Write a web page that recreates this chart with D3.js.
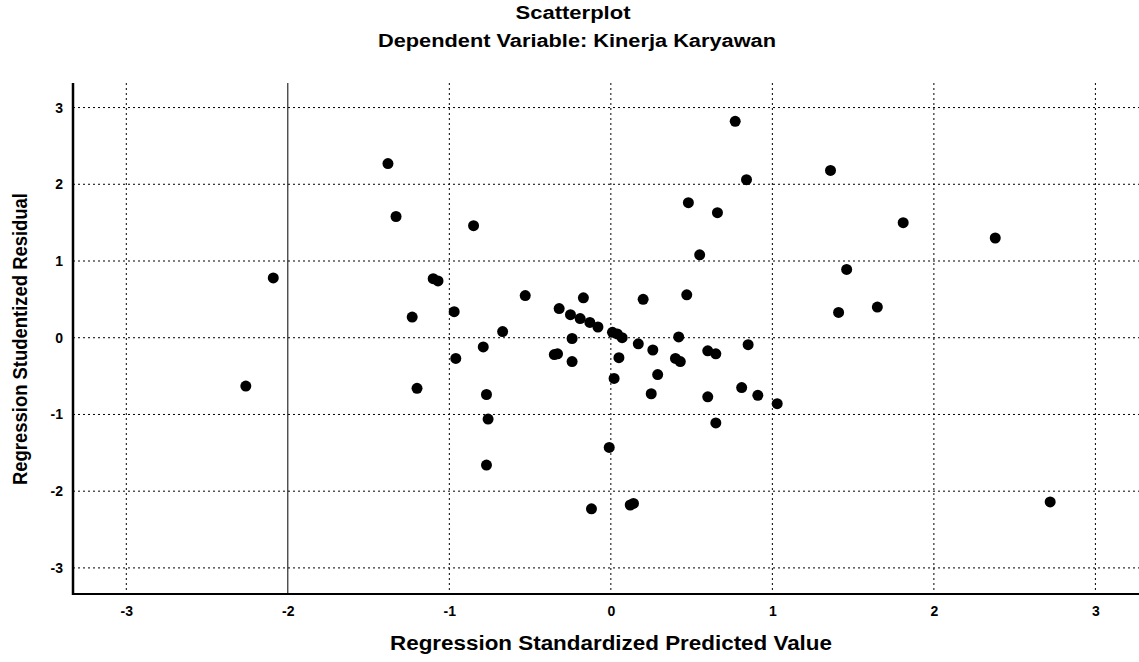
<!DOCTYPE html>
<html lang="en">
  <head>
    <meta charset="UTF-8" />
    <title>Scatterplot - Kinerja Karyawan</title>
    <script src="https://d3js.org/d3.v7.min.js"></script>
    <style>
      body {
        margin: 0;
        background: #fff;
        font-family: "Liberation Sans", Arial, sans-serif;
      }
      .title {
        font-weight: bold;
        font-size: 18px;
      }
      .axis_label {
        font-weight: bold;
        font-size: 20px;
      }
      .tick_label {
        font-weight: bold;
        font-size: 14px;
      }
      .grid {
        fill: none;
        stroke: #000;
        stroke-width: 1px;
        stroke-dasharray: 2, 3;
      }
    </style>
  </head>
  <body>
    <svg id="chart" width="1139" height="662"></svg>
    <script>
      // standardized predicted value (x) and studentized residual (y)
      let predicted = [
        -2.26, -2.09, -1.38, -1.33, -1.23, -1.20, -1.10, -1.07, -0.97, -0.96,
        -0.85, -0.79, -0.77, -0.77, -0.76, -0.67, -0.53, -0.35, -0.33, -0.32,
        -0.25, -0.24, -0.24, -0.19, -0.17, -0.13, -0.12, -0.08, -0.01, 0.01,
        0.02, 0.04, 0.05, 0.07, 0.12, 0.14, 0.17, 0.20, 0.25, 0.26,
        0.29, 0.40, 0.42, 0.43, 0.47, 0.48, 0.55, 0.60, 0.60, 0.65,
        0.65, 0.66, 0.77, 0.81, 0.84, 0.85, 0.91, 1.03, 1.36, 1.41,
        1.46, 1.65, 1.81, 2.38, 2.72
      ];
      let residual = [
        -0.63, 0.78, 2.27, 1.58, 0.27, -0.66, 0.77, 0.74, 0.34, -0.27,
        1.46, -0.12, -0.74, -1.66, -1.06, 0.08, 0.55, -0.22, -0.21, 0.38,
        0.30, -0.01, -0.31, 0.25, 0.52, 0.20, -2.23, 0.14, -1.43, 0.07,
        -0.53, 0.05, -0.26, 0.0, -2.18, -2.16, -0.08, 0.50, -0.73, -0.16,
        -0.48, -0.27, 0.01, -0.31, 0.56, 1.76, 1.08, -0.17, -0.77, -0.21,
        -1.11, 1.63, 2.82, -0.65, 2.06, -0.09, -0.75, -0.86, 2.18, 0.33,
        0.89, 0.40, 1.50, 1.30, -2.14
      ];
      let xTicks = [-3, -2, -1, 0, 1, 2, 3];
      let yTicks = [-3, -2, -1, 0, 1, 2, 3];

      let svg = d3.select("#chart");
      let plotLeft = 73,
        plotRight = 1139,
        plotTop = 83,
        plotBottom = 594;

      let x = d3.scaleLinear().domain([-3.33, 3.27]).range([plotLeft, plotRight]);
      let y = d3.scaleLinear().domain([-3.34, 3.32]).range([plotBottom, plotTop]);

      // titles
      svg
        .append("text")
        .attr("class", "title")
        .attr("x", 573)
        .attr("y", 19)
        .attr("text-anchor", "middle")
        .attr("textLength", 115)
        .attr("lengthAdjust", "spacingAndGlyphs")
        .text("Scatterplot");
      svg
        .append("text")
        .attr("class", "title")
        .attr("x", 577)
        .attr("y", 47)
        .attr("text-anchor", "middle")
        .attr("textLength", 398)
        .attr("lengthAdjust", "spacingAndGlyphs")
        .text("Dependent Variable: Kinerja Karyawan");

      // grid lines
      let grid = svg.append("g");
      grid
        .selectAll(".vgrid")
        .data(xTicks)
        .join("line")
        .attr("class", "grid")
        .attr("x1", (d) => x(d))
        .attr("x2", (d) => x(d))
        .attr("y1", plotTop)
        .attr("y2", plotBottom)
        .style("stroke-dasharray", (d) => (d === -2 ? "none" : null));
      grid
        .selectAll(".hgrid")
        .data(yTicks)
        .join("line")
        .attr("class", "grid")
        .attr("x1", plotLeft)
        .attr("x2", plotRight)
        .attr("y1", (d) => y(d))
        .attr("y2", (d) => y(d));

      // axes: only the lines and the labels, no tick marks
      let fmt = (d) => String(d);
      let xAxis = svg
        .append("g")
        .attr("transform", `translate(0,${plotBottom})`)
        .call(
          d3.axisBottom(x).tickValues(xTicks).tickFormat(fmt).tickSize(0).tickPadding(12)
        );
      let yAxis = svg
        .append("g")
        .attr("transform", `translate(${plotLeft},0)`)
        .call(
          d3.axisLeft(y).tickValues(yTicks).tickFormat(fmt).tickSize(0).tickPadding(10)
        );
      [xAxis, yAxis].forEach((g) => {
        g.select(".domain").remove();
        g.selectAll("text")
          .attr("class", "tick_label")
          .attr("fill", "#000")
          .style("font-family", "'Liberation Sans', Arial, sans-serif");
      });
      svg
        .append("line")
        .attr("x1", plotLeft)
        .attr("x2", plotLeft)
        .attr("y1", plotTop)
        .attr("y2", plotBottom + 1)
        .attr("stroke", "#000")
        .attr("stroke-width", 2.5);
      svg
        .append("line")
        .attr("x1", plotLeft)
        .attr("x2", plotRight)
        .attr("y1", plotBottom)
        .attr("y2", plotBottom)
        .attr("stroke", "#000")
        .attr("stroke-width", 2);

      // points
      svg
        .append("g")
        .selectAll("circle")
        .data(d3.zip(predicted, residual))
        .join("circle")
        .attr("cx", (d) => x(d[0]))
        .attr("cy", (d) => y(d[1]))
        .attr("r", 5.5)
        .attr("fill", "#000");

      // axis titles
      svg
        .append("text")
        .attr("class", "axis_label")
        .attr("x", 611)
        .attr("y", 650)
        .attr("text-anchor", "middle")
        .attr("textLength", 442)
        .attr("lengthAdjust", "spacingAndGlyphs")
        .text("Regression Standardized Predicted Value");
      svg
        .append("text")
        .attr("class", "axis_label")
        .attr("transform", "translate(27,339) rotate(-90)")
        .attr("text-anchor", "middle")
        .attr("textLength", 292)
        .attr("lengthAdjust", "spacingAndGlyphs")
        .text("Regression Studentized Residual");
    </script>
  </body>
</html>
